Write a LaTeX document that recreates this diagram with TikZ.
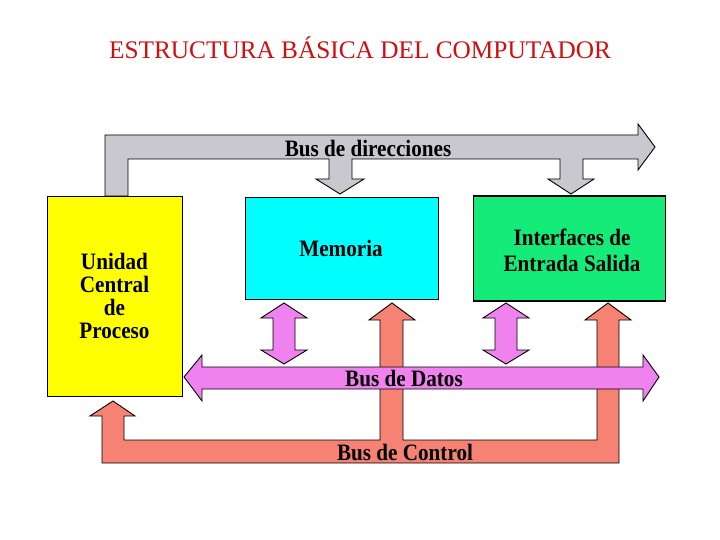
\documentclass[tikz,border=0pt]{standalone}
\usepackage{fontspec}
\setmainfont{Liberation Serif}
\newfontfamily\lblfont{Liberation Serif}[FakeStretch=0.9]
\definecolor{titlered}{RGB}{205,15,15}
\definecolor{busgray}{RGB}{200,200,206}
\definecolor{cpuyellow}{RGB}{255,255,0}
\definecolor{memcyan}{RGB}{0,255,255}
\definecolor{iogreen}{RGB}{20,235,120}
\definecolor{datapink}{RGB}{240,130,240}
\definecolor{ctrlsalmon}{RGB}{245,130,115}
\begin{document}
\begin{tikzpicture}[x=1pt,y=-1pt,
  bus/.style={draw=black, line width=0.9pt, line join=miter},
  box/.style={draw=black, line width=0.8pt, align=center, inner sep=0pt,
    font=\lblfont\bfseries\fontsize{23.5}{23}\selectfont},
  lbl/.style={inner sep=0pt, font=\lblfont\bfseries\fontsize{23.5}{26}\selectfont}]
\useasboundingbox (0,0) rectangle (720,540);
% title
\node[text=titlered, inner sep=0pt, font=\fontsize{25.3}{28}\selectfont] (title) at (360,48) {ESTRUCTURA BÁSICA DEL COMPUTADOR};
% address bus (gray)
\path[bus, fill=busgray] (105,196) -- (105,135) -- (638,135) -- (638,124) -- (655,147) -- (638,170) -- (638,159)
  -- (583,159) -- (583,179) -- (594,179) -- (571,194) -- (548,179) -- (560,179) -- (560,159)
  -- (352,159) -- (352,179) -- (364,179) -- (340,194) -- (316,179) -- (329,179) -- (329,159)
  -- (128,159) -- (128,196) -- cycle;
% control bus (salmon)
\path[bus, fill=ctrlsalmon] (113,401) -- (135,416) -- (124,416) -- (124,440) -- (380,440) -- (380,320)
  -- (369,320) -- (392,303) -- (415,320) -- (403,320) -- (403,440) -- (597,440) -- (597,320)
  -- (585,320) -- (608,303) -- (631,320) -- (619,320) -- (619,463) -- (102,463) -- (102,416)
  -- (90,416) -- cycle;
% data bus (pink)
\path[bus, fill=datapink] (184,377) -- (202,355) -- (202,367) -- (643,367) -- (643,355) -- (659,377)
  -- (643,401) -- (643,389) -- (202,389) -- (202,401) -- cycle;
% pink double arrows
\path[bus, fill=datapink] (284,303) -- (307,318) -- (295,318) -- (295,350) -- (307,350) -- (284,364)
  -- (261,350) -- (273,350) -- (273,318) -- (261,318) -- cycle;
\path[bus, fill=datapink] (506,303) -- (529,318) -- (517,318) -- (517,350) -- (529,350) -- (506,364)
  -- (483,350) -- (495,350) -- (495,318) -- (483,318) -- cycle;
% boxes
\node[box, fill=cpuyellow, minimum width=135pt, minimum height=200pt] (cpu) at (114.5,296)
  {Unidad\\Central\\de\\Proceso};
\node[box, fill=memcyan, minimum width=193pt, minimum height=102pt] (mem) at (341.5,248) {};
\node[lbl] (memt) at (341,248) {Memoria};
\node[box, draw=black, line width=1.6pt, fill=iogreen, minimum width=192pt, minimum height=105pt] (io) at (569.5,248.5) {};
\node[lbl, align=center] (iot) at (572,250) {Interfaces de\\Entrada Salida};
% bus labels
\node[lbl] (addr) at (368,148) {Bus de direcciones};
\node[lbl] (data) at (404,378) {Bus de Datos};
\node[lbl] (ctrl) at (405,452) {Bus de Control};
\end{tikzpicture}
\end{document}
